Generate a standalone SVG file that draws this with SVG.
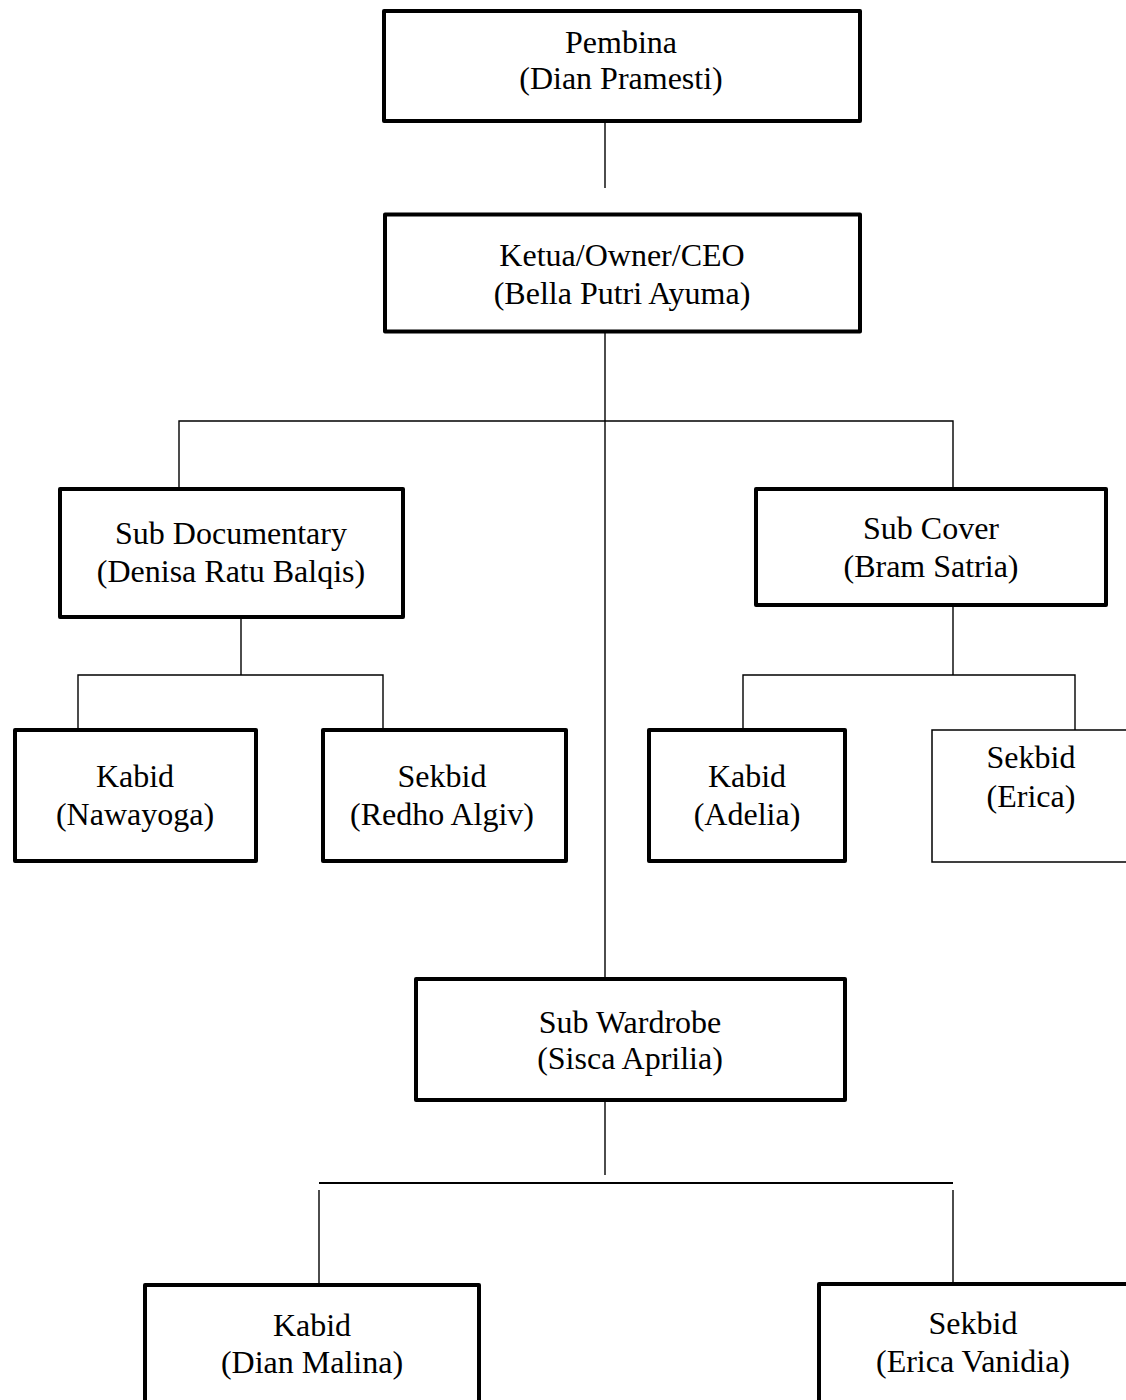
<svg xmlns="http://www.w3.org/2000/svg" width="1126" height="1400" viewBox="0 0 1126 1400">
<style>
.box{fill:#fff;stroke:#000;stroke-width:4;stroke-linejoin:round}
.thin{fill:#fff;stroke:#000;stroke-width:1.5}
.ln{stroke:#000;stroke-width:1.4;fill:none}
.t{font-family:"Liberation Serif","Times New Roman",serif;font-size:32px;fill:#000;text-anchor:middle}
</style>
<rect width="1126" height="1400" fill="#fff"/>
<g id="connectors">
<line class="ln" x1="605" y1="123" x2="605" y2="188"/>
<line class="ln" x1="605" y1="333" x2="605" y2="977"/>
<polyline class="ln" points="179,487 179,421 953,421 953,487"/>
<line class="ln" x1="241" y1="619" x2="241" y2="675"/>
<polyline class="ln" points="78,728 78,675 383,675 383,728"/>
<line class="ln" x1="953" y1="607" x2="953" y2="675"/>
<polyline class="ln" points="743,728 743,675 1075,675 1075,730"/>
<line class="ln" x1="605" y1="1102" x2="605" y2="1175"/>
<line class="ln" x1="319" y1="1183" x2="953" y2="1183" style="stroke-width:2.2"/>
<line class="ln" x1="319" y1="1190" x2="319" y2="1283"/>
<line class="ln" x1="953" y1="1190" x2="953" y2="1282"/>
</g>
<g id="pembina">
<rect class="box" x="384" y="11" width="476" height="110"/>
<text class="t" x="621" y="53">Pembina</text>
<text class="t" x="621" y="89">(Dian Pramesti)</text>
</g>
<g id="ketua">
<rect class="box" x="385" y="214.5" width="475" height="117"/>
<text class="t" x="622" y="266">Ketua/Owner/CEO</text>
<text class="t" x="622" y="304">(Bella Putri Ayuma)</text>
</g>
<g id="sub-documentary">
<rect class="box" x="60" y="489" width="343" height="128"/>
<text class="t" x="231" y="544">Sub Documentary</text>
<text class="t" x="231" y="582">(Denisa Ratu Balqis)</text>
</g>
<g id="sub-cover">
<rect class="box" x="756" y="489" width="350" height="116"/>
<text class="t" x="931" y="539">Sub Cover</text>
<text class="t" x="931" y="577">(Bram Satria)</text>
</g>
<g id="kabid-nawayoga">
<rect class="box" x="15" y="730" width="241" height="131"/>
<text class="t" x="135" y="787">Kabid</text>
<text class="t" x="135" y="825">(Nawayoga)</text>
</g>
<g id="sekbid-redho">
<rect class="box" x="323" y="730" width="243" height="131"/>
<text class="t" x="442" y="787">Sekbid</text>
<text class="t" x="442" y="825">(Redho Algiv)</text>
</g>
<g id="kabid-adelia">
<rect class="box" x="649" y="730" width="196" height="131"/>
<text class="t" x="747" y="787">Kabid</text>
<text class="t" x="747" y="825">(Adelia)</text>
</g>
<g id="sekbid-erica">
<rect class="thin" x="932" y="730" width="210" height="132"/>
<text class="t" x="1031" y="768">Sekbid</text>
<text class="t" x="1031" y="807">(Erica)</text>
</g>
<g id="sub-wardrobe">
<rect class="box" x="416" y="979" width="429" height="121"/>
<text class="t" x="630" y="1033">Sub Wardrobe</text>
<text class="t" x="630" y="1069">(Sisca Aprilia)</text>
</g>
<g id="kabid-dian-malina">
<rect class="box" x="145" y="1285" width="334" height="200"/>
<text class="t" x="312" y="1336">Kabid</text>
<text class="t" x="312" y="1373">(Dian Malina)</text>
</g>
<g id="sekbid-erica-vanidia">
<rect class="box" x="819" y="1284" width="400" height="200"/>
<text class="t" x="973" y="1334">Sekbid</text>
<text class="t" x="973" y="1372">(Erica Vanidia)</text>
</g>
</svg>
